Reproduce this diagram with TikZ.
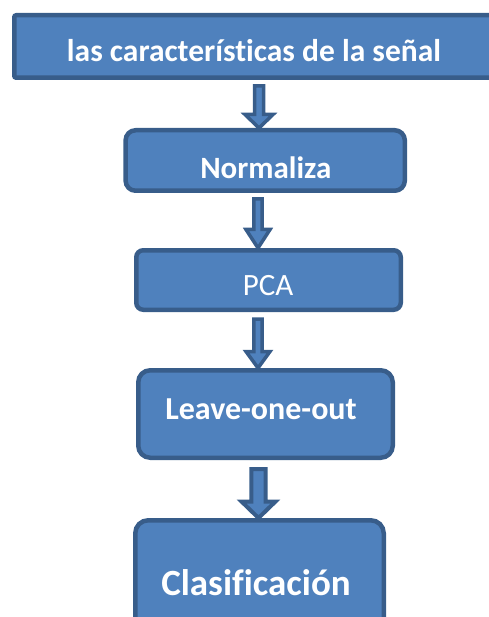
\documentclass[tikz,border=0pt]{standalone}
\usepackage{fontspec}
\setmainfont{Carlito}[Ligatures=NoCommon]
\usetikzlibrary{calc}
\definecolor{boxfill}{HTML}{4F81BD}
\definecolor{boxline}{HTML}{385D8A}
\tikzset{
  box/.style={draw=boxline, fill=boxfill, line width=4.5pt, inner sep=0pt},
  lbl/.style={text=white, anchor=base, inner sep=0pt},
  barrowstyle/.style={draw=boxline, fill=boxfill, line width=3.5pt, line join=miter}
}
% #1 from node, #2 to node, #3 x, #4 shaft half width, #5 head half width, #6 head length, #7 top gap
\newcommand\blockarrow[8][]{%
  \path[barrowstyle,#1] let \p1=(#2.south), \p2=(#3.north) in
    (#4-#5,\y1-#8) -- (#4+#5,\y1-#8) -- (#4+#5,\y2+#7) -- (#4+#6,\y2+#7)
    -- (#4,\y2) -- (#4-#6,\y2+#7) -- (#4-#5,\y2+#7) -- cycle;}
\begin{document}
\begin{tikzpicture}[x=1pt,y=-1pt]
\useasboundingbox (0,0) rectangle (488,617);
\node[box, rounded corners=2pt, minimum width=483.5pt, minimum height=62.5pt] (b1) at (256,46.5) {};
\node[box, rounded corners=10pt, minimum width=279.2pt, minimum height=60.5pt] (b2) at (265.2,160.5) {};
\node[box, rounded corners=7pt, minimum width=264.5pt, minimum height=59.5pt] (b3) at (268.5,280) {};
\node[box, rounded corners=12pt, minimum width=254.5pt, minimum height=87.5pt] (b4) at (265.5,414) {};
\node[box, rounded corners=13pt, minimum width=248.5pt, minimum height=140pt] (b5) at (259.5,590.25) {};
\blockarrow{b1}{b2}{259pt}{4.5pt}{14pt}{13.5pt}{6pt}
\blockarrow{b2}{b3}{258pt}{4.2pt}{12pt}{18.5pt}{6pt}
\blockarrow{b3}{b4}{258pt}{4.2pt}{12pt}{16.5pt}{7pt}
\blockarrow[line width=4pt]{b4}{b5}{258.5pt}{7.2pt}{17pt}{16.5pt}{9pt}
\node[lbl, font=\bfseries\fontsize{31.5}{36}\selectfont] (t1) at (254,62) {las características de la señal};
\node[lbl, font=\bfseries\fontsize{31}{36}\selectfont] (t2) at (265.8,178.3) {Normaliza};
\node[lbl, font=\fontsize{31}{36}\selectfont] (t3) at (268,295.7) {PCA};
\node[lbl, font=\bfseries\fontsize{32}{36}\selectfont] (t4) at (261,419) {Leave-one-out};
\node[lbl, font=\bfseries\fontsize{37}{42}\selectfont] (t5) at (256,595) {Clasificación};
\end{tikzpicture}
\end{document}
